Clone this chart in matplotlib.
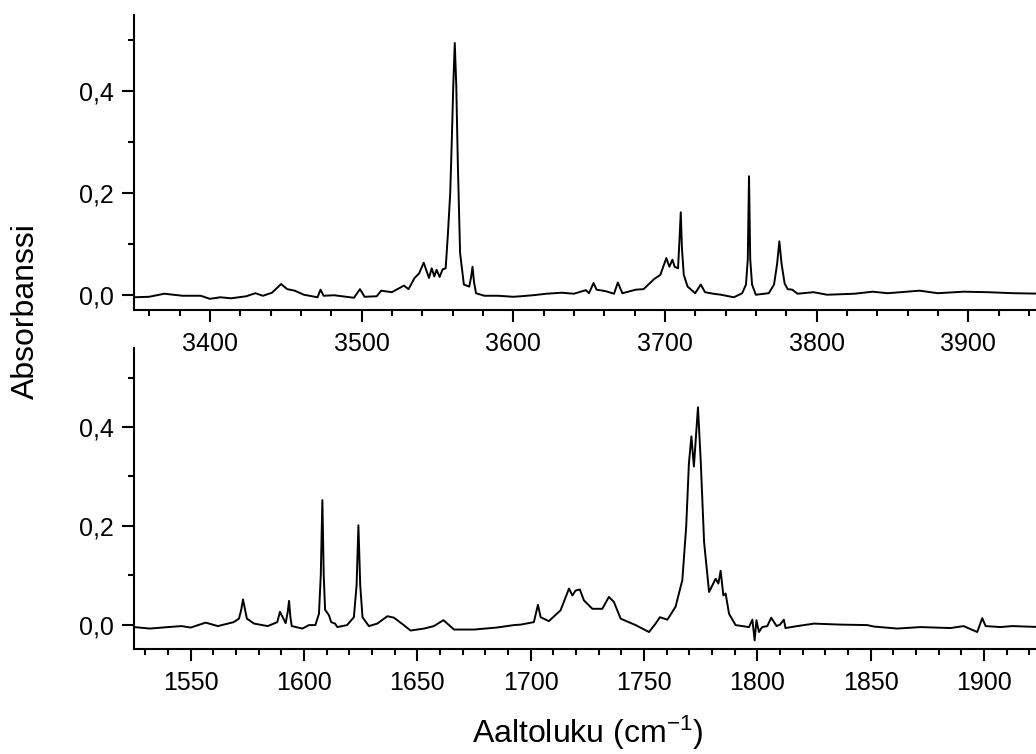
import matplotlib
matplotlib.use('Agg')
import matplotlib.pyplot as plt
from matplotlib.ticker import MultipleLocator, FuncFormatter

# OH-venytysalue (ylempi kuva)
oh_wn = [3350, 3360, 3370, 3382, 3394, 3400, 3407, 3414, 3424, 3430, 3435, 3441,
         3447, 3451, 3456, 3462, 3471, 3473, 3475, 3482, 3495, 3499, 3502, 3510,
         3513, 3520, 3528, 3531, 3535, 3538, 3541, 3544.5, 3546.3, 3548, 3549.5,
         3551.5, 3553.5, 3555.5, 3557, 3558.5, 3559.5, 3560.5, 3561.5, 3562.5,
         3563.5, 3565, 3567.5, 3571, 3572.3, 3573.2, 3574.2, 3575.5, 3581, 3590,
         3600, 3605, 3613, 3622, 3632, 3640, 3648, 3650, 3653, 3655, 3661, 3666.5,
         3669, 3672, 3681, 3686, 3693, 3697, 3701, 3703, 3705, 3706.5, 3708.7,
         3709.7, 3710.5, 3711.3, 3712.5, 3715, 3720, 3723.7, 3726.5, 3732, 3737,
         3745.5, 3751, 3753.5, 3754.7, 3755.5, 3756.3, 3757.5, 3760, 3768.5, 3772,
         3774, 3775.5, 3777, 3779, 3781, 3784, 3787.5, 3798, 3807, 3825, 3837,
         3847, 3868, 3880, 3897, 3913, 3930, 3950]
oh_abs = [-0.005, -0.004, 0.002, -0.002, -0.002, -0.008, -0.005, -0.007, -0.003,
          0.003, -0.002, 0.004, 0.021, 0.011, 0.008, 0.0, -0.005, 0.010, -0.002,
          -0.001, -0.006, 0.011, -0.004, -0.003, 0.008, 0.005, 0.018, 0.011, 0.033,
          0.042, 0.063, 0.033, 0.052, 0.036, 0.049, 0.035, 0.050, 0.052, 0.121,
          0.20, 0.30, 0.41, 0.495, 0.41, 0.26, 0.082, 0.020, 0.016, 0.035, 0.055,
          0.025, 0.003, -0.002, -0.002, -0.004, -0.003, -0.001, 0.002, 0.004, 0.002,
          0.009, 0.003, 0.023, 0.010, 0.007, 0.002, 0.024, 0.003, 0.010, 0.011,
          0.031, 0.039, 0.072, 0.055, 0.069, 0.055, 0.052, 0.11, 0.162, 0.09, 0.039,
          0.016, 0.003, 0.020, 0.005, 0.002, 0.0, -0.005, 0.003, 0.02, 0.07, 0.233,
          0.07, 0.02, 0.0, 0.003, 0.02, 0.06, 0.105, 0.06, 0.022, 0.011, 0.010,
          0.002, 0.005, 0.0, 0.002, 0.006, 0.003, 0.008, 0.003, 0.006, 0.005, 0.003,
          0.002]

# karbonyyli/taivutusalue (alempi kuva)
co_wn = [1525, 1532, 1540, 1546, 1550, 1556.6, 1562, 1569, 1571.3, 1572.3, 1573.1,
         1574, 1574.8, 1578, 1584, 1588.2, 1589.4, 1591.9, 1592.8, 1593.4, 1594,
         1594.6, 1599.3, 1602.2, 1605, 1606.6, 1607.4, 1608.1, 1608.7, 1609.3,
         1611, 1612, 1613.7, 1614.7, 1619, 1622, 1623.2, 1624, 1624.8, 1625.8,
         1628.6, 1632.3, 1636.8, 1639.7, 1644, 1647, 1653, 1657.3, 1661.5, 1666.2,
         1675, 1685, 1692.6, 1695.6, 1701.4, 1703.2, 1704.4, 1708, 1713.2, 1716.9,
         1718.4, 1719.8, 1721.7, 1723.5, 1727.2, 1731.6, 1734.5, 1736.7, 1739.7,
         1746.3, 1752.2, 1755.1, 1757, 1760.3, 1763.9, 1766.9, 1768.6, 1769.8,
         1770.9, 1772, 1773.8, 1775, 1776.5, 1778.7, 1781.6, 1782.8, 1783.8, 1785,
         1786, 1787.5, 1790.4, 1796.3, 1797.8, 1798.8, 1799.6, 1800.7, 1802.1,
         1804.4, 1806.1, 1808.5, 1810, 1811.7, 1812.4, 1817.6, 1825, 1836.7,
         1848.5, 1851.5, 1861.7, 1872, 1885.2, 1891, 1897, 1899.2, 1900.7, 1907.3,
         1912.4, 1925]
co_abs = [-0.005, -0.008, -0.005, -0.003, -0.006, 0.004, -0.003, 0.005, 0.012, 0.03,
          0.051, 0.03, 0.012, 0.002, -0.003, 0.005, 0.026, 0.003, 0.025, 0.048,
          0.015, -0.003, -0.008, -0.001, -0.001, 0.022, 0.10, 0.252, 0.10, 0.03,
          0.019, 0.005, 0.002, -0.005, -0.001, 0.015, 0.08, 0.201, 0.08, 0.015,
          -0.003, 0.002, 0.017, 0.014, -0.001, -0.012, -0.008, -0.003, 0.009, -0.010,
          -0.010, -0.006, -0.001, 0.0, 0.005, 0.040, 0.015, 0.007, 0.029, 0.073,
          0.059, 0.069, 0.071, 0.049, 0.032, 0.032, 0.056, 0.046, 0.012, -0.001,
          -0.015, 0.002, 0.015, 0.010, 0.036, 0.090, 0.198, 0.326, 0.381, 0.320,
          0.440, 0.333, 0.167, 0.066, 0.093, 0.083, 0.109, 0.059, 0.063, 0.022,
          -0.001, -0.005, 0.010, -0.032, 0.009, -0.015, -0.005, -0.003, 0.014,
          -0.003, 0.0, 0.010, -0.007, -0.003, 0.002, 0.0, -0.001, -0.004, -0.008,
          -0.005, -0.007, -0.003, -0.015, 0.013, -0.003, -0.005, -0.003, -0.005]

plt.rcParams['font.family'] = ['Liberation Sans', 'DejaVu Sans']
plt.rcParams['mathtext.fontset'] = 'custom'
plt.rcParams['mathtext.rm'] = 'Liberation Sans'
plt.rcParams['mathtext.it'] = 'Liberation Sans'

LW = 1.5


def comma_fmt(v, pos):
    return f'{v:.1f}'.replace('.', ',')


def style_axes(ax, xmajor, xminor):
    ax.patch.set_visible(False)
    for side in ('top', 'right'):
        ax.spines[side].set_visible(False)
    for side in ('left', 'bottom'):
        ax.spines[side].set_linewidth(LW)
    ax.xaxis.set_major_locator(MultipleLocator(xmajor))
    ax.xaxis.set_minor_locator(MultipleLocator(xminor))
    ax.yaxis.set_major_locator(MultipleLocator(0.2))
    ax.yaxis.set_minor_locator(MultipleLocator(0.1))
    ax.yaxis.set_major_formatter(FuncFormatter(comma_fmt))
    ax.tick_params(which='major', length=8.5, width=LW, labelsize=18)
    ax.tick_params(axis='y', which='major', pad=6)
    ax.tick_params(axis='x', which='major', pad=7)
    ax.tick_params(which='minor', length=4.5, width=LW)


fig = plt.figure(figsize=(10.36, 7.54), dpi=100)

ax1 = fig.add_axes([134 / 1036, 1 - 310 / 754, 910 / 1036, 295 / 754])
ax1.plot(oh_wn, oh_abs, color='black', lw=1.4)
ax1.set_xlim(3350, 3950)
ax1.set_ylim(-0.03, 0.55)
style_axes(ax1, 100, 20)

ax2 = fig.add_axes([134 / 1036, 1 - 649.3 / 754, 906.7 / 1036, 301.3 / 754])
ax2.plot(co_wn, co_abs, color='black', lw=1.4)
ax2.set_xlim(1525, 1925)
ax2.set_ylim(-0.05, 0.56)
style_axes(ax2, 50, 10)

fig.text(26 / 1036, 1 - 311 / 754, 'Absorbanssi', rotation=90,
         ha='center', va='center', fontsize=23)
fig.text(588 / 1036, 1 - 733 / 754, 'Aaltoluku (cm$^{-1}$)',
         ha='center', va='center', fontsize=23)

fig.savefig('out.png', dpi=100)
